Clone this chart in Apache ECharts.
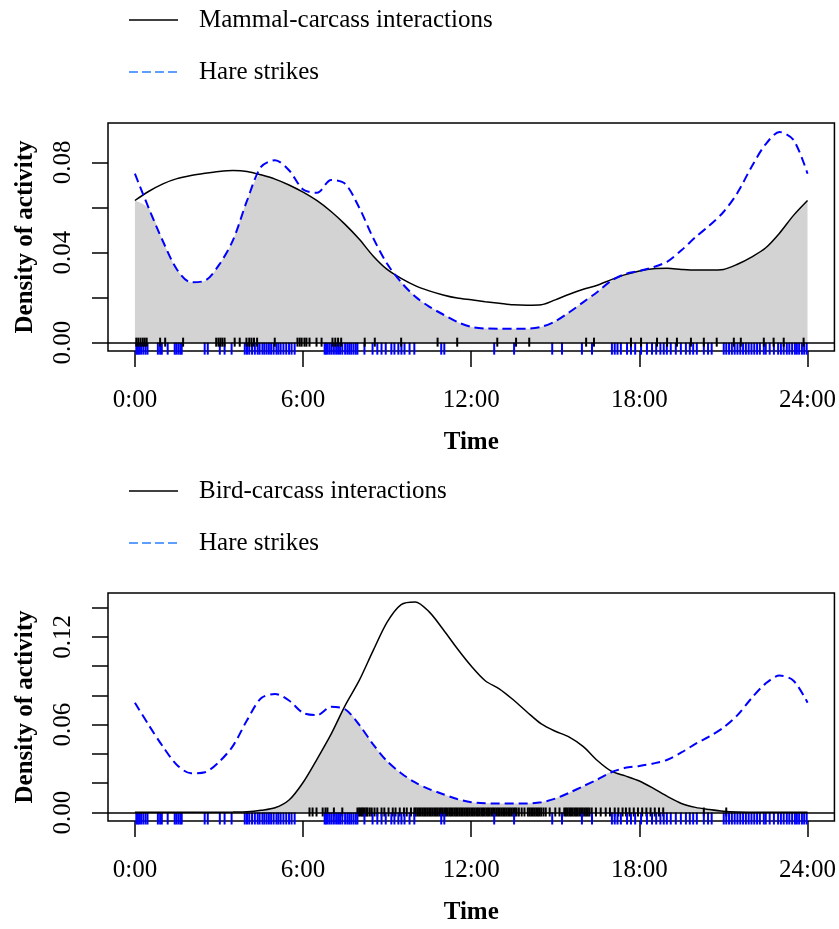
<!DOCTYPE html>
<html>
<head>
<meta charset="utf-8">
<title>Activity overlap</title>
<script src="https://cdn.jsdelivr.net/npm/echarts@6/dist/echarts.min.js"></script>
<style>
  html, body { margin: 0; padding: 0; background: #fff; }
  #chart { width: 839px; height: 929px; }
</style>
</head>
<body>
<div id="chart"></div>
<script>
// time grid (hours) shared by the density curves
const hours = [0, 0.5, 1, 1.5, 2, 2.5, 3, 3.5, 4, 4.5, 5, 5.5, 6, 6.5, 7, 7.5, 8, 8.5, 9, 9.5,
  10, 10.5, 11, 11.5, 12, 12.5, 13, 13.5, 14, 14.5, 15, 15.5, 16, 16.5, 17, 17.5, 18, 18.5, 19, 19.5,
  20, 20.5, 21, 21.5, 22, 22.5, 23, 23.5, 24]

const mammalDensity = [0.0631, 0.0672, 0.0705, 0.0728, 0.0742, 0.0752, 0.0760, 0.0764, 0.0760, 0.0745,
  0.0726, 0.0700, 0.0668, 0.0630, 0.0582, 0.0525, 0.0460, 0.0385, 0.0325, 0.0285,
  0.0253, 0.0230, 0.0212, 0.0198, 0.0190, 0.0182, 0.0175, 0.0168, 0.0166, 0.0168,
  0.0190, 0.0215, 0.0237, 0.0255, 0.0280, 0.0302, 0.0318, 0.0328, 0.0330, 0.0325,
  0.0322, 0.0322, 0.0325, 0.0348, 0.0380, 0.0420, 0.0486, 0.0565, 0.0631]

const hareDensity = [0.0750, 0.0595, 0.0450, 0.0325, 0.0268, 0.0275, 0.0345, 0.0455, 0.0630, 0.0780,
  0.0810, 0.0765, 0.0680, 0.0665, 0.0722, 0.0705, 0.0600, 0.0465, 0.0350, 0.0268,
  0.0205, 0.0160, 0.0125, 0.0092, 0.0070, 0.0063, 0.0062, 0.0062, 0.0062, 0.0070,
  0.0095, 0.0135, 0.0180, 0.0225, 0.0275, 0.0305, 0.0318, 0.0335, 0.0360, 0.0410,
  0.0468, 0.0520, 0.0580, 0.0665, 0.0780, 0.0880, 0.0935, 0.0900, 0.0750]

const birdDensity = [0.0002, 0.0002, 0.0002, 0.0002, 0.0002, 0.0002, 0.0002, 0.0003, 0.0005, 0.0015,
  0.0032, 0.0085, 0.0205, 0.0365, 0.0535, 0.0730, 0.0900, 0.1105, 0.1300, 0.1420,
  0.1438, 0.1370, 0.1250, 0.1120, 0.1000, 0.0900, 0.0845, 0.0770, 0.0685, 0.0605,
  0.0555, 0.0515, 0.0450, 0.0355, 0.0282, 0.0250, 0.0215, 0.0165, 0.0110, 0.0062,
  0.0035, 0.0020, 0.0008, 0.0003, 0.0002, 0.0002, 0.0002, 0.0002, 0.0002]

// observation times (rug)
const mammalTimes = [0.05, 0.12, 0.2, 0.28, 0.35, 0.42, 0.9, 1.08, 1.72, 2.9, 2.98, 3.05, 3.12, 3.2,
  3.56, 3.74, 3.98, 4.08, 4.16, 4.25, 4.36, 4.99, 5.8, 5.88, 5.95, 6.05, 6.12, 6.23, 6.48, 6.66,
  7.05, 7.15, 7.25, 7.36, 8.2, 8.56, 9.5, 10.8, 11.5, 12.93, 13.6, 14.07, 16.1, 16.38, 17.7, 18.06,
  18.63, 18.99, 19.34, 19.84, 20.3, 20.76, 21.37, 21.62, 22.44, 22.79, 23.15, 23.86]

const hareTimes = [0.05, 0.1, 0.15, 0.22, 0.3, 0.38, 0.45, 0.82, 0.9, 0.96, 1.17, 1.42, 1.48, 1.55,
  1.62, 1.67, 2.49, 2.6, 3.03, 3.2, 3.45, 3.92, 4.0, 4.08, 4.18, 4.28, 4.38, 4.45, 4.55, 4.62, 4.7,
  4.78, 4.86, 4.95, 5.05, 5.12, 5.2, 5.3, 5.4, 5.5, 5.59, 5.7, 6.77, 6.82, 6.88, 6.95, 7.02, 7.1,
  7.18, 7.25, 7.32, 7.4, 7.5, 7.58, 7.65, 7.72, 7.8, 7.88, 7.94, 8.19, 8.48, 8.65, 8.8, 8.95, 9.15,
  9.26, 9.4, 9.51, 9.62, 9.8, 9.97, 10.93, 11.04, 12.82, 13.53, 14.89, 15.24, 15.95, 16.31, 17.02,
  17.12, 17.22, 17.34, 17.56, 17.7, 17.85, 18.06, 18.27, 18.45, 18.6, 18.75, 18.87, 18.98, 19.12,
  19.3, 19.48, 19.66, 19.8, 19.92, 20.05, 20.3, 20.45, 20.58, 21.01, 21.1, 21.2, 21.3, 21.4, 21.5,
  21.6, 21.7, 21.8, 21.9, 22.0, 22.1, 22.2, 22.3, 22.44, 22.51, 22.65, 22.8, 22.95, 23.05, 23.15,
  23.26, 23.35, 23.45, 23.55, 23.62, 23.7, 23.8, 23.88, 23.97]

const birdTimes = [6.23, 6.34, 6.48, 6.7, 6.8, 6.87, 7.1, 7.4, 7.94, 8.0, 8.05, 8.1, 8.15, 8.2, 8.26,
  8.3, 8.38, 8.45, 8.55, 8.65, 8.8, 8.9, 9.05, 9.2, 9.3, 9.45, 9.6, 9.7, 9.85, 9.97, 10.02, 10.08,
  10.14, 10.2, 10.26, 10.32, 10.38, 10.44, 10.5, 10.56, 10.62, 10.68, 10.74, 10.8, 10.86, 10.92,
  10.98, 11.04, 11.1, 11.16, 11.22, 11.28, 11.34, 11.4, 11.46, 11.52, 11.58, 11.64, 11.7, 11.76,
  11.82, 11.88, 11.94, 12.0, 12.06, 12.12, 12.18, 12.24, 12.3, 12.36, 12.42, 12.48, 12.54, 12.6,
  12.66, 12.72, 12.78, 12.84, 12.9, 12.96, 13.02, 13.08, 13.14, 13.2, 13.26, 13.32, 13.38, 13.44,
  13.5, 13.56, 13.62, 13.7, 13.8, 13.9, 14.02, 14.08, 14.14, 14.2, 14.26, 14.32, 14.38, 14.44, 14.5,
  14.58, 14.66, 14.8, 15.0, 15.15, 15.32, 15.38, 15.44, 15.5, 15.56, 15.62, 15.68, 15.74, 15.8,
  15.86, 15.92, 15.98, 16.04, 16.1, 16.16, 16.22, 16.3, 16.45, 16.62, 16.8, 16.95, 17.12, 17.25,
  17.4, 17.52, 17.65, 17.8, 17.95, 18.1, 18.25, 18.4, 18.55, 18.7, 18.85, 20.3, 21.1]

const timeTicks = [0, 6, 12, 18, 24]
const topYTicks = [0, 0.02, 0.04, 0.06, 0.08]
const topYLabels = [0, 0.04, 0.08]
const bottomYTicks = [0, 0.02, 0.04, 0.06, 0.08, 0.1, 0.12, 0.14]
const bottomYLabels = [0, 0.06, 0.12]

const FONT = '"Liberation Serif", "Times New Roman", serif'

const chart = echarts.init(document.getElementById('chart'))

const pair = (ys) => hours.map((h, i) => [h, ys[i]])
const overlap = (a, b) => hours.map((h, i) => [h, Math.min(a[i], b[i])])

const xAxisFor = (idx) => ({
  type: 'value',
  gridIndex: idx,
  min: -0.96,
  max: 24.96,
  name: 'Time',
  nameLocation: 'middle',
  nameGap: 79,
  nameTextStyle: { fontFamily: FONT, fontSize: 25, fontWeight: 'bold', color: '#000' },
  axisLine: { show: false, onZero: false },
  splitLine: { show: false },
  axisTick: { show: true, customValues: timeTicks, length: 16, lineStyle: { color: '#000', width: 1.5 } },
  axisLabel: {
    customValues: timeTicks,
    margin: 37,
    fontFamily: FONT,
    fontSize: 25,
    color: '#000',
    formatter: (v) => v + ':00'
  }
})

const yAxisFor = (idx, min, max, ticks, labels) => ({
  type: 'value',
  gridIndex: idx,
  min: min,
  max: max,
  name: 'Density of activity',
  nameLocation: 'middle',
  nameRotate: 90,
  nameGap: 70,
  nameTextStyle: { fontFamily: FONT, fontSize: 25, fontWeight: 'bold', color: '#000' },
  axisLine: { show: false, onZero: false },
  splitLine: { show: false },
  axisTick: { show: true, customValues: ticks, length: 16, lineStyle: { color: '#000', width: 1.5 } },
  axisLabel: {
    customValues: labels,
    rotate: 90,
    margin: 32,
    fontFamily: FONT,
    fontSize: 25,
    color: '#000',
    formatter: (v) => v.toFixed(2)
  }
})

const fillSeries = (idx, data) => ({
  type: 'line',
  xAxisIndex: idx,
  yAxisIndex: idx,
  data: data,
  smooth: 0.3,
  symbol: 'none',
  lineStyle: { width: 0 },
  areaStyle: { color: '#d3d3d3', opacity: 1 },
  z: 1,
  silent: true,
  markLine: {
    silent: true,
    symbol: 'none',
    label: { show: false },
    lineStyle: { color: '#000', width: 1.5, type: 'solid' },
    data: [{ yAxis: 0 }]
  }
})

const curveSeries = (idx, data, color, dashed) => ({
  type: 'line',
  xAxisIndex: idx,
  yAxisIndex: idx,
  data: data,
  smooth: 0.3,
  symbol: 'none',
  lineStyle: { color: color, width: dashed ? 2 : 1.5, type: dashed ? [9, 5] : 'solid' },
  z: 4
})

// rug marks: short vertical ticks at y = 0
const rugSeries = (idx, times, color, up, down, z) => ({
  type: 'custom',
  xAxisIndex: idx,
  yAxisIndex: idx,
  data: times.map((t) => [t, 0]),
  z: z,
  renderItem: (params, api) => {
    const p = api.coord([api.value(0), 0])
    return {
      type: 'line',
      shape: { x1: p[0], y1: p[1] - up, x2: p[0], y2: p[1] + down },
      style: { stroke: color, lineWidth: 2 }
    }
  }
})

const legendItem = (y, label, color, dashed) => [
  {
    type: 'line',
    shape: { x1: 129, y1: y, x2: 178, y2: y },
    style: { stroke: color, lineWidth: 1.5, lineDash: dashed ? [9, 4] : null }
  },
  {
    type: 'text',
    x: 199,
    y: y,
    style: { text: label, font: '25px ' + FONT, fill: '#000', verticalAlign: 'middle' }
  }
]

const option = {
  backgroundColor: '#fff',
  animation: false,
  grid: [
    { left: 108, top: 123, width: 729, height: 228, show: true, borderColor: '#000', borderWidth: 1.5, backgroundColor: 'transparent' },
    { left: 108, top: 593, width: 729, height: 228, show: true, borderColor: '#000', borderWidth: 1.5, backgroundColor: 'transparent' }
  ],
  xAxis: [xAxisFor(0), xAxisFor(1)],
  yAxis: [
    yAxisFor(0, -0.0037, 0.0975, topYTicks, topYLabels),
    yAxisFor(1, -0.0058, 0.1499, bottomYTicks, bottomYLabels)
  ],
  graphic: [
    ...legendItem(20, 'Mammal-carcass interactions', '#000', false),
    ...legendItem(72, 'Hare strikes', '#2a7fff', true),
    ...legendItem(491, 'Bird-carcass interactions', '#000', false),
    ...legendItem(543, 'Hare strikes', '#2a7fff', true)
  ],
  series: [
    fillSeries(0, overlap(mammalDensity, hareDensity)),
    rugSeries(0, hareTimes, '#0000ff', 0, 12, 2),
    rugSeries(0, mammalTimes, '#000', 5, 4, 3),
    curveSeries(0, pair(mammalDensity), '#000', false),
    curveSeries(0, pair(hareDensity), '#0000ff', true),

    fillSeries(1, overlap(birdDensity, hareDensity)),
    rugSeries(1, birdTimes, '#000', 5, 4, 2),
    rugSeries(1, hareTimes, '#0000ff', 0, 12, 3),
    curveSeries(1, pair(birdDensity), '#000', false),
    curveSeries(1, pair(hareDensity), '#0000ff', true)
  ]
}

chart.setOption(option)
</script>
</body>
</html>
